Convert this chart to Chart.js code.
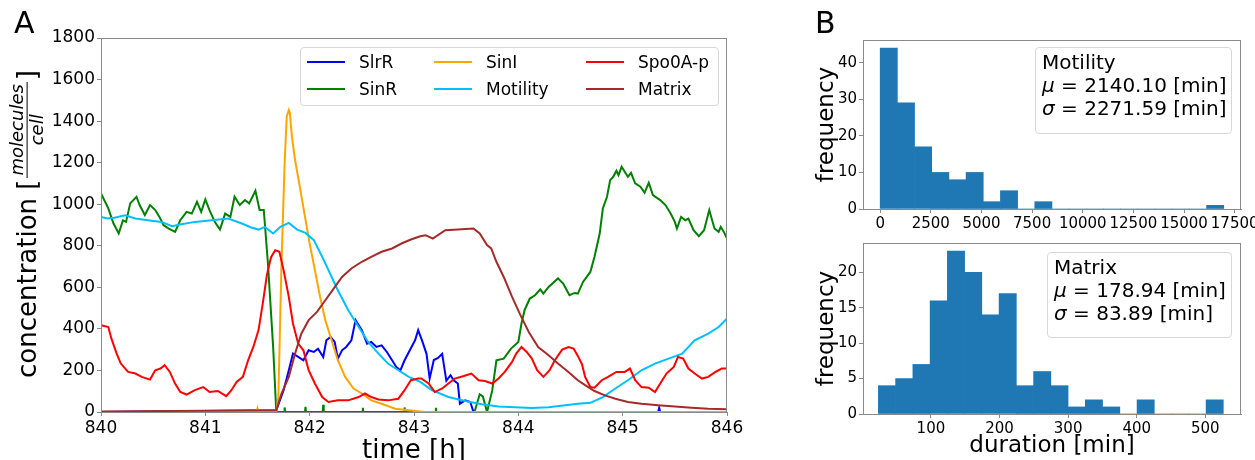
<!DOCTYPE html>
<html>
<head>
<meta charset="utf-8">
<script src="https://cdn.jsdelivr.net/npm/chart.js@4.4.1/dist/chart.umd.min.js"></script>
<style>
  body { margin: 0; width: 1255px; height: 460px; overflow: hidden; background: #fff; position: relative;
         font-family: "DejaVu Sans", sans-serif; color: #000; }
  canvas { position: absolute; }
  .panel { position: absolute; font-size: 30px; line-height: 1; }
  .ytitle { position: absolute; left: 27px; top: 224px; transform: translate(-50%, -50%) rotate(-90deg);
            white-space: nowrap; font-size: 26px; display: flex; align-items: center; }
  .frac { display: inline-flex; flex-direction: column; align-items: center; font-style: italic; font-size: 18px;
          line-height: 1.05; margin: 0 2px; }
  .frac .num { border-bottom: 1.5px solid #000; padding: 0 2px; }
  .legend { position: absolute; border: 1px solid #d8d8d8; border-radius: 4px; background: rgba(255,255,255,0.85); }
  .legend .item { position: absolute; font-size: 17px; white-space: nowrap; transform: translateY(-50%); }
  .legend .line { position: absolute; height: 2px; transform: translateY(-50%); }
  .stats { position: absolute; border: 1px solid #d8d8d8; border-radius: 4px; background: rgba(255,255,255,0.85);
           font-size: 20px; line-height: 23px; padding: 3px 6px; box-sizing: border-box; white-space: nowrap; }
</style>
</head>
<body>
<canvas id="mainChart" width="760" height="470" style="left:0;top:0"></canvas>
<canvas id="motilityHist" width="495" height="230" style="left:760px;top:0"></canvas>
<canvas id="matrixHist" width="495" height="230" style="left:760px;top:230px"></canvas>

<div class="panel" style="left:14px;top:8px">A</div>
<div class="panel" style="left:815px;top:8px">B</div>
<div class="ytitle"><span>concentration [</span><span class="frac"><span class="num">molecules</span><span>cell</span></span><span>]</span></div>
<div class="legend" id="mainLegend" style="left:300px;top:47px;width:417px;height:57px"></div>
<div class="stats" style="left:1035px;top:47px;width:197px;height:87px">Motility<br><i>μ</i> = 2140.10 [min]<br><i>σ</i> = 2271.59 [min]</div>
<div class="stats" style="left:1047px;top:252px;width:185px;height:86px">Matrix<br><i>μ</i> = 178.94 [min]<br><i>σ</i> = 83.89 [min]</div>

<script>
// ---- panel A: time [h] and concentrations [molecules/cell] ----
const slrrTime = [840.0, 841.68, 841.75, 841.80, 841.84, 841.89, 841.94, 841.99, 842.04, 842.08, 842.13, 842.16, 842.20, 842.24, 842.27, 842.31, 842.35, 842.40, 842.44, 842.50, 842.55, 842.59, 842.64, 842.69, 842.74, 842.79, 842.83, 842.87, 842.91, 842.96, 843.01, 843.04, 843.08, 843.12, 843.15, 843.19, 843.23, 843.27, 843.31, 843.35, 843.38, 843.42, 843.44, 843.49, 843.54, 843.57, 845.34, 845.35, 845.36, 846.0];
const slrrValues = [0, 8, 105, 201, 281, 265, 249, 297, 289, 305, 265, 345, 361, 337, 257, 297, 313, 345, 442, 394, 329, 337, 313, 321, 289, 249, 217, 201, 249, 297, 345, 394, 340, 280, 161, 250, 260, 280, 150, 177, 153, 137, 40, 56, 48, 0, 0, 20, 0, 0];

const sinrTime = [840.0, 840.07, 840.12, 840.17, 840.21, 840.24, 840.28, 840.34, 840.37, 840.42, 840.47, 840.52, 840.56, 840.60, 840.65, 840.71, 840.76, 840.82, 840.87, 840.92, 840.96, 841.0, 841.04, 841.09, 841.14, 841.19, 841.24, 841.28, 841.33, 841.38, 841.42, 841.48, 841.52, 841.56, 841.60, 841.65, 841.68,
  841.755, 841.76, 841.765, 841.955, 841.96, 841.965, 842.125, 842.13, 842.135, 842.505, 842.51, 842.515, 842.905, 842.91, 842.915, 843.205, 843.21, 843.215,
  843.58, 843.63, 843.66, 843.70, 843.75, 843.79, 843.86, 843.93, 844.0, 844.03, 844.06, 844.11, 844.16, 844.21, 844.24, 844.29, 844.38, 844.43, 844.49, 844.54, 844.57, 844.62, 844.69, 844.73, 844.78, 844.81, 844.85, 844.88, 844.91, 844.94, 844.96, 844.99, 845.02, 845.05, 845.08, 845.12, 845.17, 845.21, 845.25, 845.29, 845.36, 845.41, 845.46, 845.50, 845.52, 845.56, 845.60, 845.63, 845.68, 845.73, 845.78, 845.83, 845.88, 845.92, 845.94, 845.97, 846.0];
const sinrValues = [1052, 980, 907, 859, 922, 915, 1004, 1036, 996, 948, 996, 972, 939, 899, 883, 867, 923, 963, 955, 1012, 963, 1023, 972, 915, 878, 955, 939, 1036, 996, 1020, 1004, 1065, 972, 972, 716, 313, 0,
  0, 22, 0, 0, 25, 0, 0, 35, 0, 0, 20, 0, 0, 22, 0, 0, 20, 0,
  0, 85, 75, 0, 104, 249, 257, 305, 337, 426, 490, 546, 562, 590, 570, 602, 643, 618, 562, 573, 570, 626, 674, 747, 859, 980, 1036, 1116, 1132, 1161, 1140, 1180, 1156, 1132, 1151, 1100, 1084, 1055, 1103, 1044, 1020, 996, 955, 915, 883, 939, 923, 931, 875, 846, 875, 972, 883, 867, 891, 867, 835];

const siniTime = [840.0, 841.49, 841.50, 841.51, 841.68, 841.70, 841.73, 841.76, 841.78, 841.80, 841.81, 841.83, 841.86, 841.90, 841.95, 842.0, 842.05, 842.10, 842.15, 842.21, 842.27, 842.34, 842.42, 842.50, 842.59, 842.69, 842.82, 842.95, 843.1, 846.0];
const siniValues = [0, 0, 18, 0, 0, 72, 715, 1197, 1421, 1453, 1440, 1325, 1212, 1100, 955, 811, 683, 554, 442, 345, 249, 169, 113, 89, 56, 40, 16, 8, 0, 0];

const motilityTime = [840.0, 840.06, 840.13, 840.23, 840.33, 840.45, 840.58, 840.68, 840.77, 840.90, 841.06, 841.22, 841.35, 841.44, 841.51, 841.57, 841.65, 841.72, 841.80, 841.88, 841.96, 842.04, 842.12, 842.18, 842.27, 842.37, 842.47, 842.56, 842.66, 842.75, 842.85, 842.95, 843.06, 843.17, 843.33, 843.49, 843.65, 843.81, 843.97, 844.13, 844.29, 844.45, 844.57, 844.69, 844.81, 844.93, 845.05, 845.18, 845.31, 845.44, 845.57, 845.69, 845.82, 845.92, 846.0];
const motilityValues = [939, 931, 935, 947, 931, 923, 915, 894, 904, 915, 923, 931, 907, 888, 878, 891, 859, 891, 910, 878, 862, 827, 747, 683, 586, 490, 409, 337, 281, 233, 201, 169, 145, 105, 72, 53, 37, 27, 23, 19, 23, 32, 40, 44, 72, 113, 153, 201, 233, 257, 281, 345, 377, 409, 450];

const spo0aTime = [840.0, 840.07, 840.10, 840.15, 840.19, 840.26, 840.33, 840.39, 840.47, 840.52, 840.57, 840.61, 840.66, 840.71, 840.76, 840.82, 840.90, 840.98, 841.04, 841.12, 841.20, 841.25, 841.30, 841.36, 841.41, 841.46, 841.51, 841.55, 841.59, 841.63, 841.67, 841.71, 841.75, 841.80, 841.84, 841.89, 841.94, 841.99, 842.05, 842.12, 842.18, 842.27, 842.37, 842.47, 842.53, 842.59, 842.66, 842.75, 842.85, 842.91, 842.97, 843.04, 843.07, 843.14, 843.20, 843.27, 843.33, 843.39, 843.47, 843.55, 843.62, 843.68, 843.75, 843.81, 843.87, 843.94, 843.98, 844.03, 844.08, 844.13, 844.18, 844.24, 844.30, 844.35, 844.42, 844.48, 844.53, 844.57, 844.61, 844.64, 844.69, 844.73, 844.80, 844.86, 844.94, 845.02, 845.07, 845.12, 845.18, 845.25, 845.31, 845.36, 845.42, 845.49, 845.53, 845.58, 845.63, 845.69, 845.76, 845.82, 845.89, 845.95, 846.0];
const spo0aValues = [418, 409, 353, 281, 233, 193, 185, 169, 156, 201, 209, 225, 193, 137, 96, 84, 105, 120, 96, 101, 76, 105, 145, 169, 249, 313, 394, 520, 660, 745, 779, 771, 683, 554, 426, 329, 297, 201, 137, 72, 48, 56, 56, 72, 89, 72, 60, 56, 64, 105, 153, 161, 161, 137, 96, 113, 137, 161, 172, 185, 153, 149, 137, 161, 193, 241, 281, 313, 289, 257, 201, 169, 201, 249, 300, 313, 305, 270, 230, 169, 120, 117, 153, 169, 193, 193, 209, 153, 120, 117, 96, 137, 185, 217, 265, 257, 209, 185, 161, 169, 193, 209, 209];

const matrixTime = [840.0, 841.68, 841.73, 841.80, 841.86, 841.92, 841.99, 842.07, 842.15, 842.23, 842.31, 842.40, 842.50, 842.59, 842.69, 842.79, 842.88, 842.97, 843.06, 843.11, 843.18, 843.30, 843.42, 843.57, 843.63, 843.70, 843.74, 843.79, 843.86, 843.94, 844.02, 844.10, 844.19, 844.29, 844.38, 844.48, 844.57, 844.64, 844.73, 844.83, 844.93, 845.05, 845.18, 845.34, 845.50, 845.66, 845.82, 846.0];
const matrixValues = [3, 8, 89, 169, 281, 377, 442, 482, 538, 594, 650, 691, 723, 747, 771, 787, 811, 830, 846, 851, 835, 875, 878, 883, 859, 803, 787, 723, 650, 554, 466, 385, 313, 273, 233, 193, 153, 129, 101, 80, 64, 48, 40, 32, 27, 21, 16, 13];

const timeTicks = [840, 841, 842, 843, 844, 845, 846];
const concTicks = [0, 200, 400, 600, 800, 1000, 1200, 1400, 1600, 1800];

// ---- panel B: histogram bin edges [min] and counts ----
const motilityEdges = [0, 848, 1696, 2544, 3392, 4240, 5088, 5936, 6784, 7632, 8480, 9328, 10176, 11024, 11872, 12720, 13568, 14416, 15264, 16112, 16960];
const motilityCounts = [44, 29, 17, 10, 8, 10, 2, 5, 0, 2, 0, 0, 0, 0, 0, 0, 0, 0, 0, 1];
const matrixEdges = [23.4, 48.5, 73.7, 98.8, 124.0, 149.1, 174.2, 199.4, 224.5, 249.7, 274.8, 299.9, 325.1, 350.2, 375.4, 400.5, 425.6, 450.8, 475.9, 501.1, 526.2];
const matrixCounts = [4, 5, 7, 16, 23, 20, 14, 17, 4, 6, 4, 1, 2, 1, 0, 2, 0, 0, 0, 2];
const motilityDurTicks = [0, 2500, 5000, 7500, 10000, 12500, 15000, 17500];
const motilityFreqTicks = [0, 10, 20, 30, 40];
const matrixDurTicks = [100, 200, 300, 400, 500];
const matrixFreqTicks = [0, 5, 10, 15, 20];

const series = [
  { label: 'SlrR', color: '#0000ff', t: slrrTime, v: slrrValues },
  { label: 'SinR', color: '#008000', t: sinrTime, v: sinrValues },
  { label: 'SinI', color: '#ffa500', t: siniTime, v: siniValues },
  { label: 'Motility', color: '#00bfff', t: motilityTime, v: motilityValues },
  { label: 'Spo0A-p', color: '#ff0000', t: spo0aTime, v: spo0aValues },
  { label: 'Matrix', color: '#a52a2a', t: matrixTime, v: matrixValues }
];

const FONT = '"DejaVu Sans", sans-serif';
const SPINE = '#8a8a8a';

// fixed axis sizes so the plot areas land where the reference has them
function fitTo(size, horizontal) {
  return (s) => {
    if (horizontal) s.height = size; else s.width = size;
    s.paddingLeft = s.paddingRight = s.paddingTop = s.paddingBottom = 0;
  };
}
function useTicks(values) {
  return (s) => { s.ticks = values.map(v => ({ value: v })); };
}

// matplotlib-like box around the plot area
const frame = {
  id: 'frame',
  afterDatasetsDraw(chart) {
    const a = chart.chartArea, ctx = chart.ctx;
    ctx.save();
    ctx.strokeStyle = SPINE;
    ctx.lineWidth = 1;
    ctx.strokeRect(Math.round(a.left) + 0.5, Math.round(a.top) + 0.5, Math.round(a.right - a.left) - 1, Math.round(a.bottom - a.top));
    ctx.restore();
  }
};

function axis(min, max, ticks, fontSize, size, horizontal, title) {
  return {
    type: 'linear', min: min, max: max, offset: false,
    afterBuildTicks: useTicks(ticks),
    afterFit: fitTo(size, horizontal),
    ticks: { font: { family: FONT, size: fontSize }, color: '#000', padding: 2, autoSkip: false, maxRotation: 0,
             callback: (v) => String(v) },
    grid: { display: true, drawOnChartArea: false, drawTicks: true, tickLength: 4, color: SPINE, offset: false },
    border: { display: true, color: SPINE },
    title: title || { display: false }
  };
}

Chart.defaults.font.family = FONT;

new Chart(document.getElementById('mainChart'), {
  type: 'line',
  data: {
    datasets: series.map((s, i) => ({
      label: s.label,
      data: s.t.map((t, j) => ({ x: t, y: s.v[j] })),
      borderColor: s.color,
      backgroundColor: s.color,
      borderWidth: 2,
      pointRadius: 0,
      tension: 0,
      order: series.length - i
    }))
  },
  options: {
    responsive: false, animation: false,
    layout: { padding: { top: 38, right: 33, left: 0, bottom: 0 } },
    plugins: { legend: { display: false }, tooltip: { enabled: false } },
    scales: {
      x: axis(840, 846, timeTicks, 17, 58, true,
        { display: true, text: 'time [h]', color: '#000', font: { family: FONT, size: 26 }, padding: { top: 0, bottom: 3 } }),
      y: axis(0, 1800, concTicks, 17, 101, false)
    }
  },
  plugins: [frame]
});

function histogram(id, edges, counts, xMin, xMax, xTicks, yMax, yTicks, padTop, xHeight, xTitle) {
  return new Chart(document.getElementById(id), {
    type: 'bar',
    data: {
      datasets: [{
        data: counts.map((c, i) => ({ x: (edges[i] + edges[i + 1]) / 2, y: c })),
        backgroundColor: '#1f77b4',
        borderWidth: 0,
        barPercentage: 1,
        categoryPercentage: 1
      }]
    },
    options: {
      responsive: false, animation: false,
      layout: { padding: { top: padTop, right: 14, left: 0, bottom: 0 } },
      plugins: { legend: { display: false }, tooltip: { enabled: false } },
      scales: {
        x: axis(xMin, xMax, xTicks, 15, xHeight, true, xTitle),
        y: axis(0, yMax, yTicks, 15, 103, false,
          { display: true, text: 'frequency', color: '#000', font: { family: FONT, size: 23 }, padding: { top: 53, bottom: 0 } })
      }
    },
    plugins: [frame]
  });
}

histogram('motilityHist', motilityEdges, motilityCounts, -848, 17812, motilityDurTicks, 46.2, motilityFreqTicks, 40, 21);
histogram('matrixHist', matrixEdges, matrixCounts, 1, 552, matrixDurTicks, 24.15, matrixFreqTicks, 13, 46,
  { display: true, text: 'duration [min]', color: '#000', font: { family: FONT, size: 23 }, padding: { top: 0, bottom: 0 } });

// legend in matplotlib column order (ncol = 3)
const legendBox = document.getElementById('mainLegend');
const colX = [6, 133, 285];
const rowY = [14, 41];
series.forEach((s, i) => {
  const col = Math.floor(i / 2), row = i % 2;
  const line = document.createElement('div');
  line.className = 'line';
  line.style.cssText = `left:${colX[col]}px;top:${rowY[row]}px;width:38px;background:${s.color}`;
  const text = document.createElement('div');
  text.className = 'item';
  text.style.cssText = `left:${colX[col] + 52}px;top:${rowY[row]}px`;
  text.textContent = s.label;
  legendBox.appendChild(line);
  legendBox.appendChild(text);
});
</script>
</body>
</html>
